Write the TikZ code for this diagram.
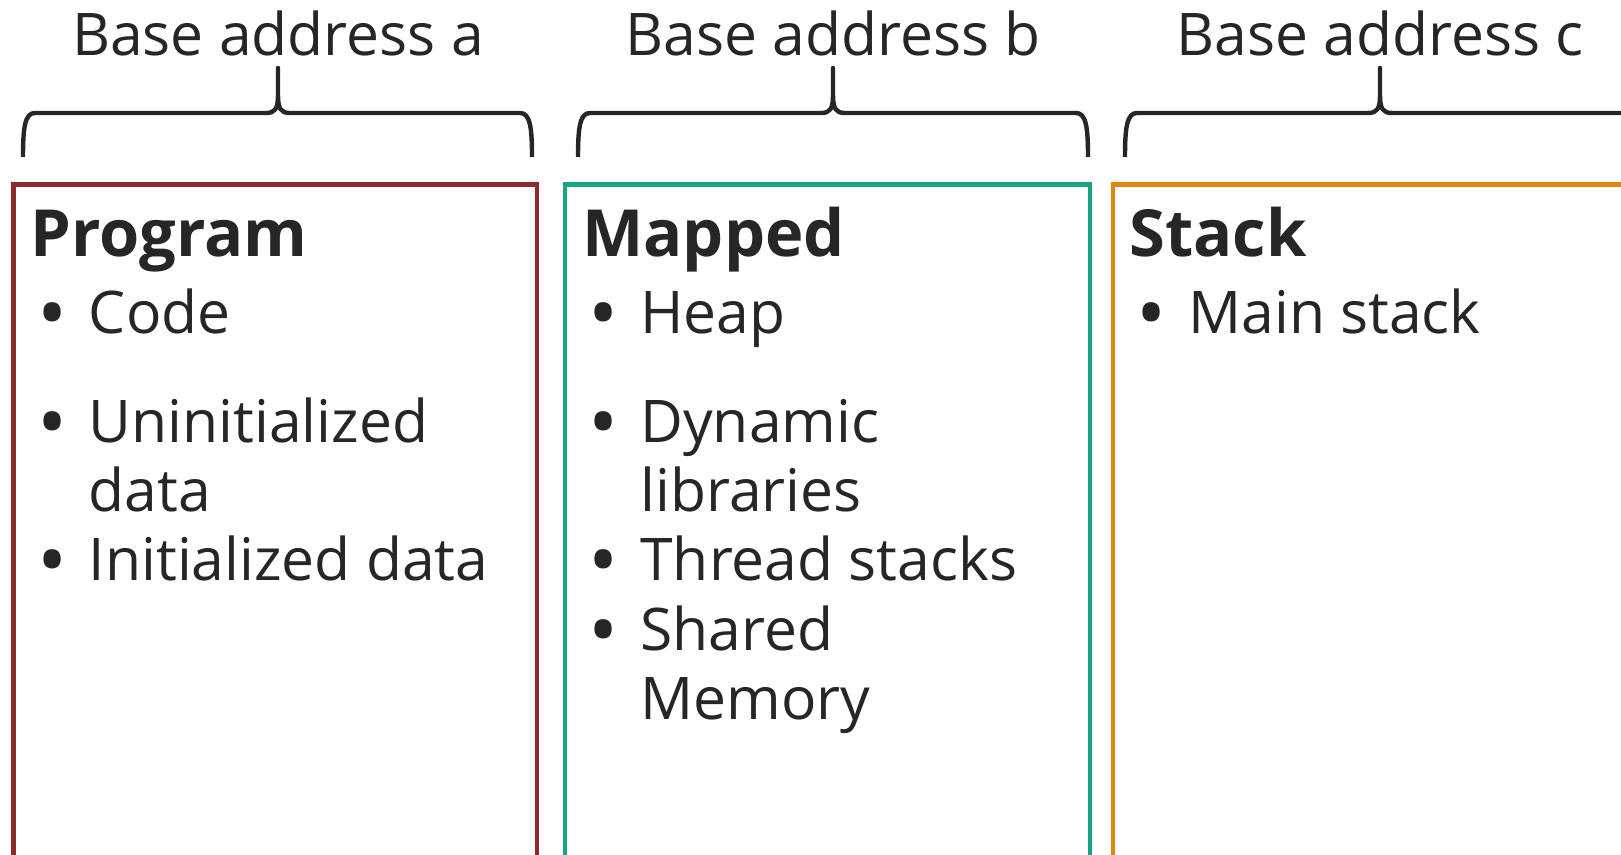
\documentclass[tikz,border=0pt]{standalone}
\usepackage{fontspec}
\setmainfont{Open Sans}
\definecolor{inkgray}{HTML}{262626}
\definecolor{progred}{HTML}{8E2B2F}
\definecolor{mapteal}{HTML}{17A589}
\definecolor{stackorange}{HTML}{E2870F}
\newcommand\segtitlestyle{\fontsize{32.5}{38}\selectfont\bfseries}
\newcommand\segtextstyle{\fontsize{29.4}{34.5}\selectfont}
\newcommand\segdotstyle{\fontsize{40}{40}\selectfont}
\newcommand\segtop{184.5}
\newcommand\segbottom{857}
% lines of one item, baseline on the first line
\newcommand\seglines[1]{\vtop{\let\\\cr\baselineskip=34.5pt\lineskiplimit=-100pt\halign{##\hfil\cr#1\crcr}}}
\tikzset{
  segbox/.style={line width=2.2pt},
  addrbrace/.style={line width=2.2pt, draw=inkgray, line join=round},
  addrlabel/.style={font=\segtextstyle, text=inkgray, anchor=base, inner sep=0pt},
  segtitle/.style={font=\segtitlestyle, text=inkgray, anchor=base west, inner sep=0pt},
  segbullet/.style={font=\segdotstyle, text=inkgray, anchor=base, inner sep=0pt},
  segitem/.style={font=\segtextstyle, text=inkgray, anchor=base west, inner sep=0pt},
}
% brace over one segment: left end, tip, right end
\newcommand\addrbrace[3]{
  \draw[addrbrace] (#1,157) .. controls (#1,127) and (#1+2,113) .. (#1+12,113) -- (#2-12,113)
    .. controls (#2-3,113) and (#2,109) .. (#2,95) -- (#2,68) -- (#2,95)
    .. controls (#2,109) and (#2+3,113) .. (#2+12,113) -- (#3-12,113)
    .. controls (#3-2,113) and (#3,127) .. (#3,157) ;
}
% bullet item: name, box left, baseline, text
\newcommand\segitem[4]{
  \node[segbullet] (#1dot) at (#2+39,#3+8) {\textbullet} ;
  \node[segitem] (#1) at (#2+75,#3) {\seglines{#4}} ;
}

\begin{document}
\begin{tikzpicture}[x=0.5pt, y=-0.5pt]
  \useasboundingbox (0,0) rectangle (1621,855) ;
  \addrbrace{23}{278}{532}
  \addrbrace{578}{833}{1088}
  \addrbrace{1125}{1380}{1635}
  \node[addrlabel] (basea) at (278,56) {Base address a} ;
  \node[addrlabel] (baseb) at (833,56) {Base address b} ;
  \node[addrlabel] (basec) at (1380,56) {Base address c} ;
  \draw[segbox, draw=progred] (13.5,\segtop) rectangle (537,\segbottom) ;
  \draw[segbox, draw=mapteal] (565,\segtop) rectangle (1090,\segbottom) ;
  \draw[segbox, draw=stackorange] (1113,\segtop) rectangle (1650,\segbottom) ;
  % Program
  \node[segtitle] (program) at (30,257) {Program} ;
  \segitem{code}{13.5}{334}{Code}
  \segitem{bss}{13.5}{442}{Uninitialized\\data}
  \segitem{idata}{13.5}{580}{Initialized data}
  % Mapped
  \node[segtitle] (mapped) at (582,257) {Mapped} ;
  \segitem{heap}{565}{334}{Heap}
  \segitem{dynlib}{565}{442}{Dynamic\\libraries}
  \segitem{tstack}{565}{580}{Thread stacks}
  \segitem{shmem}{565}{650}{Shared\\Memory}
  % Stack
  \node[segtitle] (stack) at (1129,257) {Stack} ;
  \segitem{mstack}{1113}{334}{Main stack}
\end{tikzpicture}
\end{document}
